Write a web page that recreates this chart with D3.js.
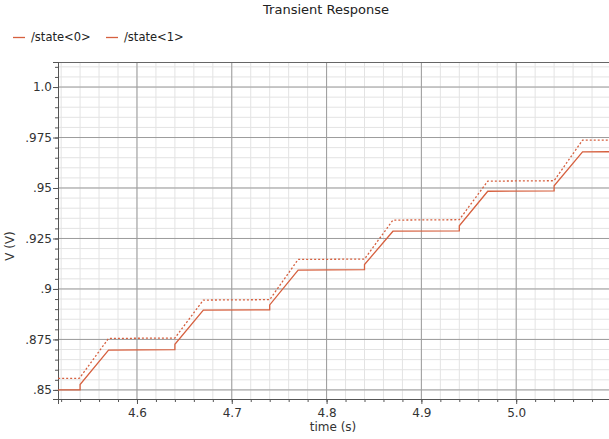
<!DOCTYPE html>
<html>
<head>
<meta charset="utf-8">
<script src="https://cdn.jsdelivr.net/npm/d3@7"></script>
<style>
  body { margin: 0; background: #fff; }
  svg { display: block; font-family: "DejaVu Sans", sans-serif; }
</style>
</head>
<body>
<div id="chart"></div>
<script>
// series: /state<0> (solid, lower) and /state<1> (dotted, upper)
const time0 = [4.50, 4.54, 4.54, 4.57, 4.64, 4.64, 4.67, 4.74, 4.74, 4.77, 4.84, 4.84, 4.87, 4.94, 4.94, 4.97, 5.04, 5.04, 5.07, 5.12]
const state0 = [0.8500, 0.8500, 0.8527, 0.8697, 0.8700, 0.8726, 0.8895, 0.8897, 0.8921, 0.9093, 0.9096, 0.9121, 0.9286, 0.9288, 0.9313, 0.9484, 0.9486, 0.9511, 0.9679, 0.9680]
const time1 = [4.50, 4.539, 4.54, 4.57, 4.64, 4.67, 4.74, 4.77, 4.84, 4.87, 4.94, 4.97, 5.04, 5.07, 5.12]
const state1 = [0.8557, 0.8557, 0.8562, 0.8755, 0.8757, 0.8945, 0.8947, 0.9146, 0.9148, 0.9341, 0.9343, 0.9534, 0.9536, 0.9737, 0.9737]

const seriesNames = ["/state<0>", "/state<1>"]
const xTicks = [4.6, 4.7, 4.8, 4.9, 5.0]
const xTickLabels = ["4.6", "4.7", "4.8", "4.9", "5.0"]
const yTicks = [0.85, 0.875, 0.9, 0.925, 0.95, 0.975, 1.0]
const yTickLabels = [".85", ".875", ".9", ".925", ".95", ".975", "1.0"]

const w = 609
const h = 439
const clr = "#d6603f"
const pLeft = 58, pTop = 62, pRight = 620, pBottom = 399

const svg = d3.select("#chart").append("svg")
    .attr("width", w)
    .attr("height", h)
    .style("overflow", "hidden")

const x = d3.scaleLinear().domain([4.5167, 5.1095]).range([pLeft, pRight])
const y = d3.scaleLinear().domain([0.8455, 1.0124]).range([pBottom, pTop])

// minor grid
const xMinor = d3.range(4.52, 5.12, 0.02)
const yMinor = d3.range(0.85, 1.012, 0.005)

const grid = svg.append("g")
grid.selectAll(".xminor").data(xMinor).enter().append("line")
    .attr("x1", d => x(d)).attr("x2", d => x(d))
    .attr("y1", pTop).attr("y2", pBottom)
    .style("stroke", "#e3e3e3").style("stroke-width", 1)
grid.selectAll(".yminor").data(yMinor).enter().append("line")
    .attr("x1", pLeft).attr("x2", w)
    .attr("y1", d => y(d)).attr("y2", d => y(d))
    .style("stroke", "#e3e3e3").style("stroke-width", 1)
// major grid
grid.selectAll(".xmajor").data(xTicks).enter().append("line")
    .attr("x1", d => x(d)).attr("x2", d => x(d))
    .attr("y1", pTop).attr("y2", pBottom)
    .style("stroke", "#9c9c9c").style("stroke-width", 1)
grid.selectAll(".ymajor").data(yTicks).enter().append("line")
    .attr("x1", pLeft).attr("x2", w)
    .attr("y1", d => y(d)).attr("y2", d => y(d))
    .style("stroke", "#9c9c9c").style("stroke-width", 1)

// top border
svg.append("line")
    .attr("x1", pLeft).attr("x2", w).attr("y1", pTop + 0.5).attr("y2", pTop + 0.5)
    .style("stroke", "#666")

// axes
const yAxisMinor = d3.axisLeft(y).tickValues(yMinor).tickSize(3).tickFormat("")
const yAxis = d3.axisLeft(y).tickValues(yTicks).tickSize(5)
    .tickFormat((d, i) => yTickLabels[i])
const xAxisMinor = d3.axisBottom(x).tickValues(xMinor).tickSize(3).tickFormat("")
const xAxis = d3.axisBottom(x).tickValues(xTicks).tickSize(5)
    .tickFormat((d, i) => xTickLabels[i])

svg.append("g").attr("transform", `translate(${pLeft},0)`).call(yAxisMinor)
const gy = svg.append("g").attr("transform", `translate(${pLeft},0)`).call(yAxis)
svg.append("g").attr("transform", `translate(0,${pBottom})`).call(xAxisMinor)
const gx = svg.append("g").attr("transform", `translate(0,${pBottom})`).call(xAxis)

svg.selectAll(".domain").style("stroke", "#555")
svg.selectAll(".tick line").style("stroke", "#555")
gy.selectAll("text").style("font-size", "12px").style("fill", "#333")
    .style("font-family", "DejaVu Sans, sans-serif").attr("x", -6)
gx.selectAll("text").style("font-size", "12px").style("fill", "#333")
    .style("font-family", "DejaVu Sans, sans-serif").attr("y", 9)

// lines
const clip = svg.append("clipPath").attr("id", "plotclip")
clip.append("rect").attr("x", pLeft).attr("y", pTop).attr("width", w - pLeft).attr("height", pBottom - pTop)

const line = d3.line().x(d => x(d[0])).y(d => y(d[1]))
const data0 = time0.map((t, i) => [t, state0[i]])
const data1 = time1.map((t, i) => [t, state1[i]])

svg.append("path").datum(data1)
    .attr("clip-path", "url(#plotclip)")
    .attr("d", line)
    .style("fill", "none").style("stroke", clr).style("stroke-width", 1.3)
    .style("stroke-dasharray", "2,2")
svg.append("path").datum(data0)
    .attr("clip-path", "url(#plotclip)")
    .attr("d", line)
    .style("fill", "none").style("stroke", clr).style("stroke-width", 1.3)

// title, labels
svg.append("text").attr("x", 326).attr("y", 14).attr("text-anchor", "middle")
    .style("font-size", "13px").style("fill", "#222").text("Transient Response")
svg.append("text").attr("x", 333).attr("y", 431).attr("text-anchor", "middle")
    .style("font-size", "12px").style("fill", "#333").text("time (s)")
svg.append("text").attr("transform", "translate(14,246) rotate(-90)").attr("text-anchor", "middle")
    .style("font-size", "12px").style("fill", "#333").text("V (V)")

// legend
const legX = [13, 106]
seriesNames.forEach((name, i) => {
    svg.append("line").attr("x1", legX[i]).attr("x2", legX[i] + 12)
        .attr("y1", 37.5).attr("y2", 37.5)
        .style("stroke", clr).style("stroke-width", 1.3)
    svg.append("text").attr("x", legX[i] + 18).attr("y", 41)
        .style("font-size", "11.5px").style("fill", "#222").text(name)
})
</script>
</body>
</html>
